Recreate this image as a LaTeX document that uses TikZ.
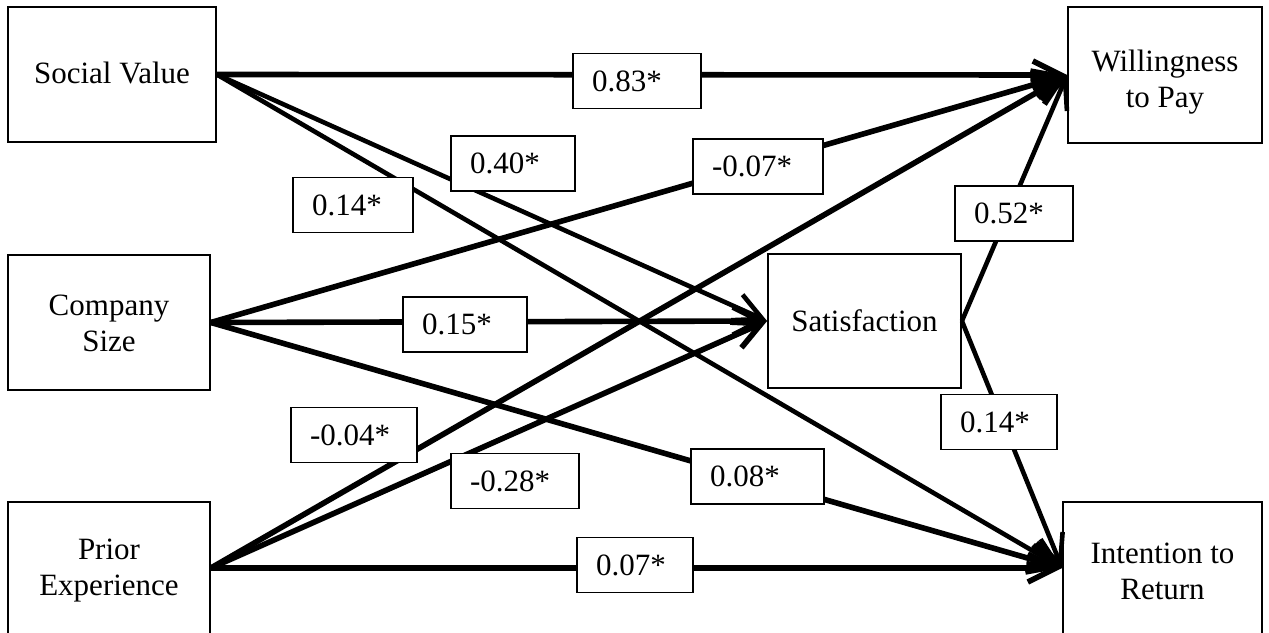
\documentclass[tikz,border=0pt]{standalone}
\usepackage{fontspec}
\setmainfont{Liberation Serif}
\usetikzlibrary{arrows.meta}
% set a stack of centred lines, drawn a little lower than its nominal box
\newcommand{\lowstack}[2]{\raisebox{-#1}[\height][\depth]{\begin{tabular}{@{}c@{}}#2\end{tabular}}}
\begin{document}
\begin{tikzpicture}[x=1pt,y=-1pt,
  every node/.style={font=\fontsize{31}{36}\selectfont},
  var/.style={draw, line width=1.8pt, inner sep=0pt, align=center},
  coef/.style={draw, fill=white, line width=1.8pt, inner xsep=19pt, inner ysep=0pt,
               minimum height=55pt, text width=#1, align=left},
  link/.style={line width=5.6pt, -{Straight Barb[length=28pt,width=28pt]}},
  thinlink/.style={link, line width=4.6pt},
]
\useasboundingbox (0,0) rectangle (1269,632);

% variables
\node[var, minimum width=208pt, minimum height=135pt] (sv)  at (112,74.5)   {\lowstack{2pt}{Social Value}};
\node[var, minimum width=202pt, minimum height=135pt] (cs)  at (109,322.5)  {\lowstack{4pt}{Company\\Size}};
\node[var, minimum width=202pt, minimum height=132pt] (pe)  at (109,568)    {\lowstack{2pt}{Prior\\Experience}};
\node[var, minimum width=194pt, minimum height=136pt] (wtp) at (1165,75)    {\lowstack{7pt}{Willingness\\to Pay}};
\node[var, minimum width=193pt, minimum height=134pt] (sat) at (864.5,321)  {Satisfaction};
\node[var, minimum width=199pt, minimum height=132pt] (itr) at (1162.5,568) {\lowstack{6pt}{Intention to\\Return}};

% paths
\draw[link]     (sv.east)  -- (wtp.west);
\draw[thinlink] (sv.east)  -- (sat.west);
\draw[thinlink] (sv.east)  -- (itr.west);
\draw[link]     (cs.east)  -- (wtp.west);
\draw[link]     (cs.east)  -- (sat.west);
\draw[link]     (cs.east)  -- (itr.west);
\draw[link]     (pe.east)  -- (wtp.west);
\draw[link]     (pe.east)  -- (sat.west);
\draw[link]     (pe.east)  -- (itr.west);
\draw[thinlink] (sat.east) -- (wtp.west);
\draw[thinlink] (sat.east) -- (itr.west);

% path coefficients
\node[coef=90pt] (c1)  at (637,81)      {0.83*};
\node[coef=86pt] (c2)  at (513,163.5)   {0.40*};
\node[coef=82pt] (c3)  at (353,205)     {0.14*};
\node[coef=92pt] (c4)  at (758,166.5)   {-0.07*};
\node[coef=86pt] (c5)  at (465,324.5)   {0.15*};
\node[coef=95pt] (c6)  at (757.5,476.5) {0.08*};
\node[coef=88pt] (c7)  at (354,435)     {-0.04*};
\node[coef=90pt] (c8)  at (515,481)     {-0.28*};
\node[coef=78pt] (c9)  at (635,565)     {0.07*};
\node[coef=80pt] (c10) at (1014,213.5)  {0.52*};
\node[coef=78pt] (c11) at (999,422)     {0.14*};
\end{tikzpicture}
\end{document}
